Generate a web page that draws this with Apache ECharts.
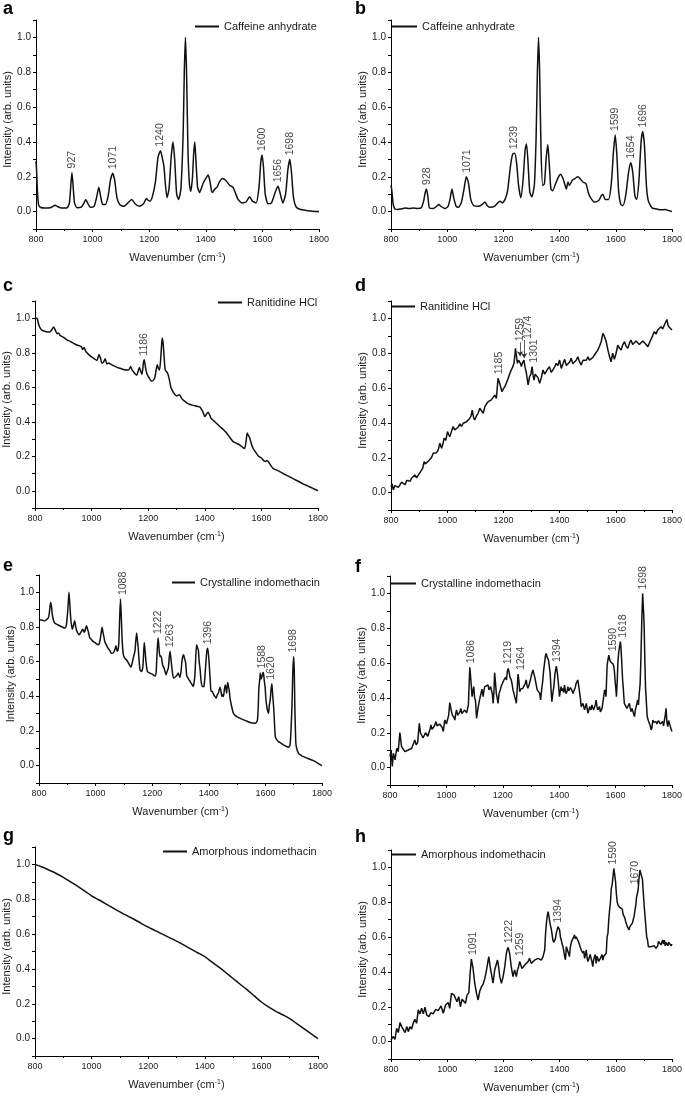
<!DOCTYPE html>
<html><head><meta charset="utf-8">
<script src="https://cdn.jsdelivr.net/npm/echarts@6/dist/echarts.min.js"></script>
<style>html,body{margin:0;padding:0;background:#fff}#c{width:685px;height:1096px}</style>
</head><body><div id="c"></div><script>
// ---- data: [wavenumber (cm-1), intensity (arb. units)] ----
const caffeineA = [[800,0.29],[802,0.24],[805,0.12],[809,0.04],[815,0.025],[830,0.02],[850,0.022],[860,0.03],[867,0.037],[875,0.03],[890,0.02],[910,0.022],[918,0.05],[923,0.15],[927,0.225],[931,0.15],[936,0.05],[945,0.022],[960,0.025],[970,0.05],[976,0.07],[982,0.05],[992,0.025],[1005,0.03],[1014,0.08],[1022,0.14],[1028,0.09],[1036,0.04],[1045,0.04],[1055,0.09],[1063,0.18],[1071,0.22],[1078,0.18],[1086,0.08],[1096,0.04],[1110,0.03],[1125,0.05],[1138,0.07],[1150,0.045],[1165,0.03],[1180,0.045],[1190,0.075],[1196,0.065],[1203,0.06],[1212,0.09],[1222,0.17],[1231,0.31],[1240,0.35],[1246,0.31],[1252,0.26],[1257,0.16],[1263,0.08],[1270,0.13],[1278,0.32],[1284,0.40],[1290,0.3],[1297,0.1],[1304,0.07],[1312,0.13],[1320,0.45],[1324,0.8],[1328,1.0],[1332,0.8],[1337,0.35],[1342,0.16],[1347,0.115],[1353,0.2],[1357,0.33],[1361,0.40],[1365,0.3],[1371,0.14],[1378,0.11],[1390,0.16],[1400,0.19],[1408,0.21],[1414,0.18],[1420,0.12],[1424,0.11],[1432,0.13],[1440,0.14],[1448,0.17],[1459,0.19],[1470,0.18],[1485,0.15],[1496,0.14],[1504,0.11],[1514,0.07],[1528,0.05],[1542,0.055],[1555,0.085],[1565,0.06],[1578,0.05],[1588,0.14],[1594,0.28],[1599,0.325],[1604,0.25],[1610,0.1],[1620,0.045],[1632,0.05],[1645,0.11],[1655,0.145],[1662,0.11],[1672,0.05],[1682,0.1],[1690,0.24],[1697,0.30],[1703,0.22],[1710,0.08],[1720,0.025],[1740,0.01],[1770,0.003],[1800,0]];
const caffeineB = [[800,0.15],[803,0.12],[808,0.04],[814,0.015],[825,0.012],[835,0.015],[850,0.02],[865,0.018],[880,0.02],[895,0.018],[908,0.022],[916,0.06],[922,0.11],[926,0.13],[931,0.09],[937,0.02],[950,0.018],[962,0.03],[970,0.04],[978,0.03],[992,0.017],[1003,0.03],[1010,0.07],[1017,0.13],[1023,0.08],[1032,0.03],[1040,0.025],[1050,0.05],[1060,0.13],[1068,0.20],[1075,0.17],[1084,0.07],[1094,0.035],[1110,0.03],[1124,0.04],[1134,0.055],[1142,0.035],[1152,0.025],[1168,0.03],[1180,0.05],[1187,0.06],[1196,0.05],[1206,0.07],[1215,0.12],[1225,0.26],[1233,0.33],[1240,0.335],[1247,0.28],[1254,0.15],[1262,0.08],[1270,0.18],[1277,0.35],[1282,0.39],[1287,0.3],[1294,0.11],[1301,0.085],[1310,0.15],[1316,0.4],[1321,0.8],[1325,1.0],[1329,0.8],[1334,0.35],[1340,0.15],[1346,0.16],[1352,0.3],[1358,0.385],[1363,0.28],[1369,0.13],[1375,0.12],[1388,0.17],[1398,0.205],[1404,0.215],[1412,0.19],[1418,0.16],[1424,0.13],[1430,0.17],[1435,0.15],[1445,0.18],[1455,0.19],[1465,0.20],[1475,0.185],[1483,0.17],[1494,0.16],[1502,0.11],[1510,0.08],[1524,0.055],[1540,0.065],[1548,0.09],[1554,0.10],[1562,0.07],[1574,0.07],[1584,0.16],[1592,0.35],[1598,0.44],[1604,0.32],[1610,0.12],[1618,0.04],[1626,0.035],[1636,0.1],[1645,0.22],[1653,0.28],[1660,0.23],[1668,0.09],[1674,0.07],[1682,0.17],[1690,0.4],[1696,0.46],[1702,0.38],[1709,0.15],[1716,0.06],[1730,0.02],[1745,0.015],[1760,0.01],[1775,0.012],[1790,0.005],[1800,0.0]];
const ranitidineA = [[800,1.0],[807,1.0],[812,0.97],[816,0.95],[825,0.93],[840,0.922],[852,0.92],[860,0.935],[866,0.95],[872,0.93],[878,0.91],[883,0.915],[889,0.90],[900,0.89],[913,0.875],[925,0.865],[936,0.855],[948,0.845],[958,0.84],[964,0.835],[968,0.82],[974,0.83],[978,0.812],[986,0.795],[993,0.785],[1001,0.775],[1010,0.765],[1019,0.755],[1026,0.79],[1032,0.765],[1036,0.74],[1042,0.745],[1048,0.765],[1054,0.735],[1060,0.74],[1066,0.735],[1077,0.725],[1090,0.715],[1101,0.71],[1112,0.703],[1124,0.70],[1131,0.70],[1138,0.72],[1143,0.70],[1148,0.69],[1155,0.675],[1160,0.67],[1164,0.69],[1169,0.715],[1174,0.69],[1178,0.675],[1183,0.74],[1186,0.76],[1190,0.72],[1195,0.68],[1203,0.655],[1212,0.635],[1218,0.64],[1224,0.66],[1228,0.70],[1232,0.73],[1236,0.71],[1240,0.70],[1244,0.76],[1248,0.86],[1250,0.885],[1253,0.85],[1256,0.78],[1260,0.70],[1265,0.69],[1269,0.68],[1274,0.65],[1280,0.60],[1289,0.57],[1296,0.555],[1301,0.55],[1308,0.555],[1312,0.555],[1318,0.535],[1324,0.525],[1336,0.51],[1348,0.50],[1360,0.495],[1371,0.49],[1377,0.488],[1383,0.485],[1389,0.47],[1395,0.45],[1400,0.43],[1406,0.445],[1412,0.455],[1417,0.44],[1422,0.42],[1432,0.405],[1442,0.39],[1455,0.37],[1465,0.355],[1477,0.335],[1488,0.31],[1500,0.285],[1512,0.275],[1524,0.265],[1535,0.25],[1541,0.245],[1546,0.29],[1550,0.335],[1554,0.32],[1559,0.305],[1565,0.27],[1571,0.245],[1577,0.23],[1583,0.215],[1590,0.20],[1600,0.19],[1608,0.175],[1615,0.17],[1620,0.175],[1626,0.165],[1634,0.145],[1641,0.13],[1660,0.115],[1677,0.1],[1695,0.085],[1712,0.07],[1730,0.055],[1747,0.04],[1765,0.027],[1782,0.014],[1800,0]];
const ranitidineB = [[800,0.034],[804,0.05],[808,0.015],[814,0.04],[820,0.044],[826,0.03],[832,0.034],[838,0.06],[844,0.054],[850,0.045],[856,0.07],[862,0.073],[868,0.065],[873,0.082],[879,0.09],[885,0.101],[891,0.085],[897,0.092],[903,0.115],[909,0.111],[913,0.14],[918,0.178],[922,0.165],[927,0.159],[932,0.18],[938,0.178],[944,0.2],[950,0.226],[956,0.215],[962,0.229],[968,0.245],[974,0.283],[980,0.254],[985,0.28],[989,0.312],[995,0.3],[1001,0.35],[1005,0.335],[1009,0.321],[1015,0.35],[1021,0.379],[1027,0.36],[1033,0.359],[1039,0.375],[1045,0.394],[1051,0.38],[1057,0.398],[1063,0.39],[1069,0.407],[1075,0.41],[1080,0.426],[1085,0.44],[1089,0.474],[1094,0.43],[1098,0.417],[1104,0.44],[1110,0.455],[1116,0.484],[1122,0.47],[1128,0.455],[1134,0.493],[1140,0.51],[1146,0.522],[1152,0.515],[1157,0.532],[1163,0.545],[1169,0.56],[1175,0.541],[1178,0.6],[1181,0.656],[1184,0.64],[1187,0.627],[1191,0.6],[1195,0.579],[1200,0.595],[1205,0.608],[1211,0.63],[1217,0.656],[1222,0.68],[1228,0.704],[1233,0.72],[1238,0.746],[1241,0.79],[1243,0.828],[1246,0.79],[1250,0.742],[1254,0.76],[1258,0.771],[1261,0.74],[1264,0.723],[1268,0.745],[1273,0.761],[1277,0.72],[1282,0.685],[1285,0.65],[1288,0.618],[1293,0.665],[1298,0.68],[1302,0.723],[1306,0.67],[1309,0.646],[1313,0.68],[1317,0.675],[1323,0.66],[1329,0.627],[1335,0.66],[1341,0.704],[1347,0.68],[1353,0.685],[1358,0.71],[1364,0.723],[1370,0.69],[1376,0.704],[1382,0.72],[1388,0.742],[1394,0.73],[1400,0.761],[1406,0.713],[1412,0.74],[1418,0.765],[1424,0.73],[1430,0.723],[1436,0.75],[1441,0.771],[1447,0.74],[1453,0.742],[1459,0.76],[1465,0.78],[1471,0.75],[1477,0.732],[1483,0.76],[1489,0.771],[1495,0.76],[1501,0.78],[1506,0.76],[1512,0.761],[1518,0.775],[1524,0.79],[1530,0.8],[1536,0.818],[1542,0.84],[1548,0.866],[1554,0.914],[1560,0.895],[1566,0.866],[1572,0.818],[1578,0.78],[1583,0.751],[1589,0.8],[1595,0.765],[1601,0.8],[1607,0.847],[1613,0.83],[1619,0.818],[1625,0.85],[1631,0.866],[1637,0.84],[1643,0.828],[1649,0.86],[1654,0.876],[1660,0.85],[1666,0.847],[1672,0.87],[1678,0.866],[1684,0.85],[1690,0.847],[1696,0.87],[1702,0.876],[1708,0.85],[1714,0.837],[1720,0.86],[1725,0.866],[1731,0.9],[1737,0.924],[1743,0.91],[1749,0.933],[1755,0.94],[1761,0.952],[1767,0.94],[1773,0.962],[1778,0.97],[1782,0.994],[1786,0.96],[1791,0.948],[1796,0.94],[1800,0.933]];
const crystallineA = [[800,0.846],[807,0.84],[814,0.838],[820,0.835],[826,0.842],[832,0.85],[836,0.875],[839,0.92],[841,0.942],[844,0.92],[847,0.871],[851,0.84],[855,0.823],[864,0.815],[873,0.807],[882,0.8],[891,0.794],[896,0.805],[900,0.861],[903,0.93],[906,1.0],[909,0.93],[912,0.852],[915,0.81],[918,0.788],[922,0.81],[926,0.836],[929,0.81],[932,0.784],[937,0.765],[942,0.755],[946,0.765],[950,0.775],[953,0.785],[956,0.784],[959,0.77],[962,0.775],[965,0.795],[968,0.807],[971,0.79],[974,0.775],[979,0.74],[985,0.728],[991,0.717],[1000,0.707],[1009,0.697],[1013,0.705],[1017,0.736],[1020,0.77],[1023,0.798],[1026,0.77],[1029,0.746],[1033,0.712],[1036,0.703],[1044,0.678],[1050,0.665],[1056,0.649],[1062,0.65],[1066,0.66],[1070,0.68],[1072,0.692],[1076,0.66],[1079,0.665],[1082,0.707],[1085,0.85],[1088,0.961],[1091,0.85],[1094,0.72],[1098,0.64],[1103,0.62],[1109,0.611],[1117,0.59],[1125,0.568],[1129,0.59],[1133,0.62],[1136,0.64],[1139,0.66],[1142,0.72],[1145,0.765],[1148,0.72],[1151,0.669],[1154,0.6],[1157,0.553],[1162,0.543],[1166,0.56],[1168,0.592],[1170,0.66],[1172,0.711],[1175,0.66],[1178,0.601],[1183,0.543],[1192,0.534],[1200,0.528],[1210,0.518],[1214,0.54],[1216,0.611],[1219,0.7],[1221,0.736],[1224,0.68],[1227,0.63],[1230,0.634],[1233,0.62],[1237,0.58],[1242,0.563],[1245,0.545],[1249,0.524],[1253,0.545],[1257,0.563],[1260,0.62],[1263,0.66],[1266,0.62],[1269,0.572],[1275,0.505],[1280,0.51],[1286,0.518],[1292,0.534],[1295,0.52],[1298,0.509],[1302,0.545],[1305,0.6],[1308,0.63],[1311,0.64],[1314,0.62],[1318,0.595],[1322,0.52],[1328,0.5],[1334,0.486],[1340,0.47],[1345,0.457],[1348,0.48],[1351,0.524],[1354,0.63],[1357,0.698],[1360,0.68],[1363,0.669],[1366,0.6],[1369,0.56],[1372,0.5],[1375,0.466],[1379,0.455],[1383,0.457],[1387,0.53],[1390,0.6],[1393,0.66],[1396,0.678],[1399,0.64],[1402,0.572],[1405,0.49],[1408,0.428],[1412,0.43],[1416,0.414],[1421,0.4],[1426,0.389],[1430,0.41],[1434,0.418],[1437,0.44],[1440,0.453],[1443,0.43],[1446,0.399],[1449,0.41],[1452,0.399],[1455,0.44],[1458,0.466],[1461,0.44],[1463,0.418],[1465,0.46],[1467,0.48],[1470,0.45],[1472,0.437],[1475,0.389],[1481,0.34],[1487,0.302],[1493,0.29],[1499,0.283],[1511,0.273],[1523,0.264],[1535,0.256],[1546,0.249],[1556,0.246],[1564,0.245],[1568,0.25],[1572,0.264],[1575,0.35],[1577,0.45],[1580,0.495],[1582,0.534],[1585,0.5],[1588,0.514],[1591,0.535],[1593,0.538],[1596,0.49],[1599,0.453],[1602,0.38],[1605,0.341],[1608,0.315],[1611,0.302],[1614,0.35],[1617,0.38],[1620,0.44],[1623,0.472],[1626,0.4],[1629,0.341],[1632,0.25],[1635,0.168],[1640,0.15],[1646,0.139],[1655,0.13],[1664,0.12],[1673,0.112],[1682,0.106],[1687,0.12],[1690,0.187],[1694,0.35],[1697,0.55],[1700,0.63],[1702,0.55],[1704,0.341],[1707,0.15],[1709,0.11],[1717,0.071],[1726,0.06],[1735,0.052],[1752,0.04],[1770,0.029],[1785,0.015],[1800,0]];
const crystallineB = [[800,0.063],[804,0.101],[808,0.006],[812,0.082],[818,0.044],[824,0.111],[829,0.092],[835,0.201],[841,0.12],[847,0.111],[853,0.092],[859,0.082],[865,0.101],[871,0.09],[877,0.111],[883,0.12],[888,0.159],[893,0.13],[898,0.143],[904,0.254],[908,0.2],[912,0.197],[917,0.17],[921,0.159],[926,0.2],[930,0.207],[934,0.18],[938,0.178],[942,0.22],[945,0.245],[949,0.22],[953,0.216],[958,0.24],[963,0.264],[967,0.24],[971,0.235],[976,0.25],[980,0.254],[985,0.23],[989,0.207],[993,0.26],[995,0.273],[1000,0.25],[1004,0.245],[1008,0.3],[1012,0.373],[1017,0.33],[1021,0.302],[1026,0.29],[1030,0.273],[1033,0.31],[1036,0.331],[1040,0.3],[1044,0.293],[1048,0.32],[1051,0.34],[1055,0.31],[1059,0.302],[1064,0.33],[1068,0.331],[1072,0.315],[1075,0.312],[1078,0.36],[1080,0.45],[1083,0.576],[1087,0.5],[1091,0.407],[1094,0.44],[1097,0.465],[1100,0.4],[1103,0.388],[1107,0.283],[1111,0.33],[1115,0.369],[1119,0.4],[1122,0.407],[1126,0.45],[1130,0.407],[1133,0.44],[1136,0.465],[1142,0.474],[1148,0.474],[1151,0.446],[1154,0.44],[1157,0.465],[1160,0.465],[1163,0.42],[1166,0.369],[1169,0.45],[1171,0.545],[1174,0.49],[1177,0.426],[1180,0.4],[1183,0.369],[1187,0.426],[1191,0.446],[1195,0.47],[1199,0.484],[1203,0.5],[1207,0.507],[1210,0.52],[1213,0.503],[1216,0.55],[1219,0.57],[1222,0.55],[1225,0.522],[1230,0.503],[1233,0.48],[1236,0.446],[1239,0.43],[1242,0.407],[1245,0.39],[1248,0.369],[1251,0.45],[1254,0.537],[1257,0.5],[1260,0.436],[1263,0.45],[1266,0.446],[1271,0.455],[1275,0.455],[1279,0.48],[1283,0.503],[1286,0.47],[1289,0.455],[1294,0.48],[1299,0.512],[1303,0.54],[1307,0.56],[1310,0.54],[1313,0.522],[1318,0.48],[1322,0.446],[1326,0.44],[1331,0.426],[1334,0.388],[1338,0.45],[1342,0.503],[1345,0.56],[1348,0.598],[1351,0.64],[1354,0.656],[1358,0.63],[1362,0.618],[1365,0.58],[1368,0.541],[1371,0.45],[1374,0.379],[1377,0.42],[1381,0.465],[1385,0.54],[1390,0.583],[1393,0.55],[1395,0.541],[1398,0.47],[1401,0.407],[1404,0.44],[1407,0.465],[1410,0.44],[1413,0.455],[1416,0.43],[1419,0.474],[1422,0.44],[1425,0.426],[1428,0.44],[1431,0.465],[1434,0.44],[1437,0.436],[1440,0.46],[1443,0.465],[1446,0.44],[1449,0.426],[1452,0.44],[1454,0.446],[1457,0.46],[1460,0.484],[1463,0.49],[1466,0.503],[1469,0.47],[1472,0.436],[1475,0.4],[1478,0.35],[1481,0.36],[1484,0.369],[1487,0.35],[1490,0.331],[1493,0.35],[1496,0.369],[1499,0.34],[1502,0.312],[1505,0.33],[1508,0.35],[1511,0.34],[1513,0.331],[1516,0.36],[1519,0.369],[1522,0.33],[1525,0.321],[1528,0.36],[1531,0.388],[1534,0.35],[1537,0.331],[1540,0.34],[1543,0.35],[1546,0.32],[1549,0.312],[1552,0.34],[1555,0.35],[1558,0.41],[1561,0.446],[1564,0.43],[1566,0.407],[1568,0.5],[1570,0.589],[1573,0.62],[1576,0.646],[1579,0.62],[1582,0.608],[1585,0.6],[1588,0.61],[1591,0.595],[1594,0.579],[1596,0.55],[1598,0.503],[1601,0.45],[1603,0.407],[1606,0.5],[1608,0.6],[1611,0.66],[1614,0.694],[1617,0.723],[1619,0.69],[1622,0.6],[1625,0.5],[1627,0.465],[1629,0.41],[1631,0.369],[1634,0.36],[1637,0.359],[1640,0.34],[1643,0.331],[1646,0.35],[1649,0.369],[1652,0.34],[1655,0.321],[1658,0.34],[1661,0.35],[1664,0.33],[1667,0.293],[1670,0.33],[1673,0.35],[1676,0.37],[1678,0.388],[1681,0.36],[1684,0.426],[1687,0.48],[1690,0.637],[1693,0.85],[1696,1.0],[1699,0.9],[1701,0.828],[1704,0.6],[1706,0.465],[1709,0.38],[1712,0.293],[1716,0.27],[1720,0.264],[1723,0.24],[1726,0.216],[1729,0.23],[1732,0.273],[1735,0.26],[1737,0.254],[1740,0.27],[1743,0.264],[1746,0.25],[1749,0.245],[1752,0.27],[1755,0.264],[1758,0.25],[1761,0.245],[1764,0.26],[1767,0.264],[1770,0.24],[1773,0.235],[1776,0.3],[1779,0.34],[1782,0.26],[1785,0.235],[1788,0.27],[1791,0.254],[1794,0.25],[1797,0.22],[1800,0.207]];
const amorphousA = [[800,1.0],[825,0.985],[850,0.967],[875,0.948],[900,0.925],[925,0.9],[950,0.875],[975,0.848],[1000,0.82],[1025,0.797],[1050,0.774],[1075,0.751],[1100,0.728],[1125,0.706],[1150,0.685],[1175,0.662],[1200,0.64],[1225,0.62],[1250,0.6],[1275,0.58],[1300,0.56],[1325,0.538],[1350,0.515],[1375,0.493],[1400,0.47],[1425,0.44],[1450,0.41],[1475,0.378],[1500,0.345],[1525,0.312],[1550,0.28],[1575,0.245],[1600,0.21],[1625,0.182],[1650,0.158],[1675,0.137],[1700,0.115],[1725,0.086],[1750,0.057],[1775,0.028],[1800,0.0]];
const amorphousB = [[800,0.01],[808,0.029],[814,0.013],[820,0.076],[826,0.052],[832,0.109],[838,0.086],[844,0.096],[850,0.052],[856,0.086],[862,0.057],[867,0.086],[873,0.071],[879,0.105],[885,0.128],[891,0.105],[897,0.182],[903,0.159],[909,0.191],[915,0.159],[921,0.197],[927,0.153],[935,0.143],[942,0.166],[950,0.159],[959,0.185],[968,0.178],[978,0.205],[986,0.163],[994,0.21],[1004,0.224],[1009,0.191],[1015,0.277],[1024,0.268],[1030,0.277],[1035,0.229],[1041,0.258],[1047,0.2],[1053,0.243],[1060,0.249],[1065,0.22],[1071,0.268],[1077,0.281],[1082,0.4],[1086,0.474],[1092,0.42],[1098,0.335],[1104,0.28],[1110,0.239],[1116,0.29],[1122,0.315],[1128,0.33],[1134,0.363],[1140,0.411],[1144,0.45],[1148,0.488],[1152,0.44],[1157,0.392],[1163,0.335],[1169,0.411],[1174,0.44],[1179,0.468],[1183,0.43],[1187,0.373],[1193,0.335],[1199,0.373],[1205,0.43],[1210,0.5],[1213,0.526],[1217,0.541],[1222,0.507],[1228,0.43],[1234,0.373],[1240,0.411],[1246,0.373],[1250,0.41],[1254,0.43],[1258,0.46],[1262,0.468],[1266,0.42],[1270,0.411],[1276,0.44],[1282,0.45],[1288,0.459],[1293,0.478],[1299,0.449],[1305,0.46],[1311,0.468],[1317,0.46],[1323,0.478],[1329,0.47],[1335,0.468],[1341,0.488],[1347,0.526],[1350,0.62],[1353,0.679],[1356,0.72],[1359,0.746],[1362,0.72],[1364,0.698],[1367,0.67],[1370,0.65],[1373,0.62],[1376,0.583],[1379,0.57],[1382,0.564],[1385,0.59],[1388,0.621],[1391,0.64],[1394,0.66],[1397,0.65],[1400,0.641],[1403,0.6],[1406,0.583],[1409,0.56],[1412,0.545],[1415,0.52],[1418,0.488],[1421,0.47],[1424,0.545],[1427,0.53],[1430,0.526],[1433,0.5],[1435,0.488],[1438,0.54],[1441,0.564],[1444,0.58],[1447,0.583],[1450,0.6],[1453,0.612],[1456,0.59],[1459,0.602],[1462,0.6],[1465,0.593],[1468,0.57],[1471,0.574],[1474,0.54],[1477,0.526],[1480,0.53],[1483,0.507],[1486,0.52],[1489,0.478],[1492,0.5],[1495,0.526],[1498,0.48],[1501,0.459],[1504,0.47],[1506,0.449],[1509,0.5],[1512,0.478],[1515,0.46],[1518,0.43],[1521,0.47],[1524,0.468],[1527,0.5],[1530,0.449],[1533,0.49],[1536,0.478],[1539,0.46],[1542,0.468],[1545,0.478],[1548,0.478],[1551,0.5],[1554,0.468],[1557,0.49],[1560,0.488],[1563,0.5],[1566,0.507],[1569,0.6],[1572,0.621],[1575,0.7],[1578,0.755],[1581,0.8],[1584,0.88],[1587,0.9],[1590,0.908],[1593,0.994],[1596,0.96],[1599,0.92],[1602,0.85],[1605,0.8],[1608,0.784],[1611,0.79],[1614,0.77],[1617,0.774],[1620,0.78],[1623,0.76],[1626,0.73],[1629,0.72],[1632,0.71],[1635,0.69],[1638,0.679],[1641,0.66],[1644,0.65],[1647,0.641],[1650,0.66],[1653,0.65],[1656,0.669],[1659,0.68],[1662,0.7],[1665,0.717],[1668,0.75],[1671,0.78],[1674,0.83],[1677,0.85],[1680,0.88],[1683,0.946],[1686,0.985],[1689,0.994],[1692,0.985],[1695,0.93],[1698,0.85],[1701,0.78],[1704,0.72],[1707,0.66],[1710,0.6],[1713,0.583],[1716,0.545],[1720,0.55],[1725,0.545],[1731,0.54],[1737,0.55],[1743,0.535],[1749,0.55],[1752,0.575],[1755,0.564],[1758,0.58],[1761,0.555],[1764,0.57],[1767,0.583],[1770,0.56],[1773,0.583],[1776,0.55],[1779,0.57],[1782,0.58],[1785,0.55],[1788,0.57],[1791,0.56],[1794,0.575],[1797,0.55],[1800,0.56]];

// ---- peak annotations (band positions, cm-1) ----
const peaksA = ['927','1071','1240','1600','1656','1698'];
const peaksB = ['928','1071','1239','1599','1654','1696'];
const peaksC = ['1186'];
const peaksD = ['1185','1259','1274','1301'];
const peaksE = ['1088','1222','1263','1396','1588','1620','1698'];
const peaksF = ['1086','1219','1264','1394','1590','1618','1698'];
const peaksG = [];
const peaksH = ['1091','1222','1259','1394','1590','1670'];

// ---- axis ticks ----
const xMin = 800, xMax = 1800, xStep = 200;
const yMin = -0.1, yMax = 1.1, yStep = 0.1;

// ---- layout / style ----
const FONT = 'Liberation Sans, Arial, Helvetica, sans-serif';
const TXT = '#1a1a1a';
const panels = [
  {key:'a', name:'Caffeine anhydrate', data:caffeineA, peaks:peaksA, grid:{left:36,top:20,width:283,height:209}, leg:{left:195,y:27,w:24}, letter:{x:3,y:0}, smooth:0.2},
  {key:'b', name:'Caffeine anhydrate', data:caffeineB, peaks:peaksB, grid:{left:391,top:20,width:282,height:209}, leg:{left:391,y:27,w:26}, letter:{x:355,y:0}, smooth:0.2},
  {key:'c', name:'Ranitidine HCl', data:ranitidineA, peaks:peaksC, grid:{left:35,top:301,width:283,height:207}, leg:{left:218,y:303,w:24}, letter:{x:3,y:277}, smooth:0.2},
  {key:'d', name:'Ranitidine HCl', data:ranitidineB, peaks:peaksD, grid:{left:391,top:301,width:282,height:209}, leg:{left:391,y:307,w:24}, letter:{x:355,y:277}, smooth:0},
  {key:'e', name:'Crystalline indomethacin', data:crystallineA, peaks:peaksE, grid:{left:39,top:575,width:283,height:208}, leg:{left:172,y:583,w:23}, letter:{x:3,y:557}, smooth:0.2},
  {key:'f', name:'Crystalline indomethacin', data:crystallineB, peaks:peaksF, grid:{left:390,top:576,width:283,height:209}, leg:{left:391,y:584,w:25}, letter:{x:355,y:558}, smooth:0},
  {key:'g', name:'Amorphous indomethacin', data:amorphousA, peaks:peaksG, grid:{left:35,top:847,width:283,height:209}, leg:{left:163,y:852,w:24}, letter:{x:3,y:827}, smooth:0.3},
  {key:'h', name:'Amorphous indomethacin', data:amorphousB, peaks:peaksH, grid:{left:391,top:850,width:282,height:209}, leg:{left:391,y:855,w:25}, letter:{x:355,y:828}, smooth:0}
];
// extra vertical raise (px) and horizontal shift (px) of some peak labels
const labelRaise = {d:{'1259':13,'1274':17}, f:{'1590':6}};
const labelShift = {d:{'1274':4,'1301':2}, e:{'1088':3}, f:{'1618':2}};
const arrowed = {d:['1259','1274']};

function peakMax(data, wn){
  let m = -Infinity;
  data.forEach(([x,y]) => { if (Math.abs(x - wn) <= 10 && y > m) m = y; });
  return m;
}

const option = {
  animation:false,
  backgroundColor:'#fff',
  textStyle:{fontFamily:FONT},
  title: panels.map(p => ({text:p.key, left:p.letter.x, top:p.letter.y, padding:0,
    textStyle:{fontSize:18, fontWeight:'bold', color:'#000', fontFamily:FONT}})),
  legend: panels.map(p => ({data:[p.name], left:p.leg.left, top:p.leg.y-6, padding:0,
    icon:'rect', itemWidth:p.leg.w, itemHeight:2, selectedMode:false,
    textStyle:{fontSize:11, color:TXT, fontFamily:FONT}})),
  grid: panels.map(p => Object.assign({containLabel:false}, p.grid)),
  xAxis: panels.map((p,i) => ({
    gridIndex:i, type:'value', min:xMin, max:xMax, interval:xStep,
    name:'Wavenumber (cm{sup|-1})', nameLocation:'middle', nameGap:23,
    nameTextStyle:{fontSize:11, color:TXT, fontFamily:FONT,
      rich:{sup:{fontSize:7, color:TXT, verticalAlign:'top', fontFamily:FONT}}},
    axisLine:{show:true, onZero:false, lineStyle:{color:'#000', width:1}},
    axisTick:{show:true, inside:false, length:3, lineStyle:{color:'#000'}},
    minorTick:{show:true, splitNumber:2, length:2, lineStyle:{color:'#000'}},
    axisLabel:{fontSize:9, color:TXT, margin:6, fontFamily:FONT, formatter: v => String(Math.round(v))},
    splitLine:{show:false}
  })),
  yAxis: panels.map((p,i) => ({
    gridIndex:i, type:'value', min:yMin, max:yMax, interval:yStep,
    name:'Intensity (arb. units)', nameLocation:'middle', nameGap:22,
    nameTextStyle:{fontSize:11, color:TXT, fontFamily:FONT, padding:[0,0,0,10]},
    axisLine:{show:true, onZero:false, lineStyle:{color:'#000', width:1}},
    axisTick:{show:true, inside:false, length:3, lineStyle:{color:'#000'}},
    axisLabel:{fontSize:10, color:TXT, margin:5, fontFamily:FONT,
      formatter: v => { const k = Math.round(v*10); return (k >= 0 && k <= 10 && k % 2 === 0) ? (k/10).toFixed(1) : ''; }},
    splitLine:{show:false}
  })),
  series: []
};

panels.forEach((p,i) => {
  option.series.push({
    type:'line', name:p.name, xAxisIndex:i, yAxisIndex:i, data:p.data,
    showSymbol:false, symbol:'none', smooth:p.smooth, silent:true,
    itemStyle:{color:'#111'}, lineStyle:{color:'#111', width:1.5}
  });
  const perUnitY = p.grid.height / (yMax - yMin);
  const perUnitX = p.grid.width / (xMax - xMin);
  const raise = labelRaise[p.key] || {};
  const shift = labelShift[p.key] || {};
  const labels = p.peaks.map(t => {
    const wn = parseInt(t, 10);
    const top = peakMax(p.data, wn);
    return [wn + (shift[t] || 0) / perUnitX, top + (4 + (raise[t] || 0)) / perUnitY, t, top, wn];
  });
  const s = {
    type:'scatter', name:'peaks-' + p.key, xAxisIndex:i, yAxisIndex:i,
    data:labels, symbolSize:1, silent:true, clip:false,
    itemStyle:{color:'rgba(0,0,0,0)'},
    label:{show:true, formatter: q => q.data[2], position:'inside', rotate:90,
      align:'left', verticalAlign:'middle', fontSize:10.5, color:'#111', fontFamily:FONT}
  };
  if (arrowed[p.key]) {
    s.markLine = {
      silent:true, symbol:['none','arrow'], symbolSize:5, animation:false,
      lineStyle:{color:'#333', width:0.8, type:'solid'}, label:{show:false},
      data: labels.filter(l => arrowed[p.key].includes(l[2]))
        .map(l => [{coord:[l[4], l[1] - 1/perUnitY]}, {coord:[l[4], l[3] + 2/perUnitY]}])
    };
  }
  option.series.push(s);
});

const chart = echarts.init(document.getElementById('c'), null, {renderer:'canvas'});
chart.setOption(option);
</script></body></html>
